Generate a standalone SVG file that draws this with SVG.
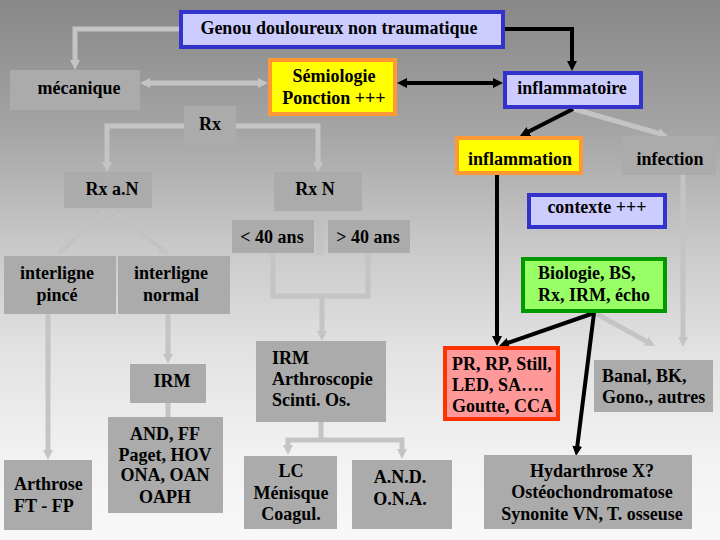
<svg xmlns="http://www.w3.org/2000/svg" width="720" height="540" viewBox="0 0 720 540">
<defs>
<linearGradient id="bg" x1="0" y1="0" x2="0" y2="1">
<stop offset="0" stop-color="#878787"/>
<stop offset="0.25" stop-color="#a6a6a6"/>
<stop offset="0.45" stop-color="#c8c8c8"/>
<stop offset="0.65" stop-color="#e2e2e2"/>
<stop offset="0.85" stop-color="#f2f2f2"/>
<stop offset="1" stop-color="#f8f8f8"/>
</linearGradient>
<marker id="ag" viewBox="0 0 10 10" refX="4" refY="5" markerWidth="10" markerHeight="10" markerUnits="userSpaceOnUse" orient="auto-start-reverse"><path d="M0,0 L10,5 L0,10 z" fill="#c4c4c4"/></marker>
<marker id="ab" viewBox="0 0 10 10" refX="4" refY="5" markerWidth="10" markerHeight="10" markerUnits="userSpaceOnUse" orient="auto-start-reverse"><path d="M0,0 L10,5 L0,10 z" fill="#000"/></marker>
</defs>
<style>
.g{fill:#ababab}
.blue{fill:#ccccff;stroke:#3333cc;stroke-width:4}
.yel{fill:#ffff00;stroke:#ff9933;stroke-width:4}
.red{fill:#ff9999;stroke:#ff3300;stroke-width:4}
.grn{fill:#99ff66;stroke:#009900;stroke-width:4}
.m{text-anchor:middle}
.cg{fill:none;stroke:#c4c4c4;stroke-width:5}
.cgt{fill:none;stroke:#c2c2c2;stroke-width:3.5}
.cb{fill:none;stroke:#000;stroke-width:4}
</style>
<rect x="0" y="0" width="720" height="540" fill="url(#bg)"/>
<g id="connectors">
<path class="cg" d="M180,29 H75 V64" marker-end="url(#ag)"/>
<path class="cg" d="M146,83 H262" marker-start="url(#ag)" marker-end="url(#ag)"/>
<path class="cg" d="M107,166 V126 H318 V166" marker-start="url(#ag)" marker-end="url(#ag)"/>
<path class="cgt" d="M104,210 L62,251" marker-end="url(#ag)"/>
<path class="cgt" d="M112,210 L164,251" marker-end="url(#ag)"/>
<path fill="none" stroke="#c0c0c0" stroke-width="8" stroke-opacity="0.5" d="M320,211 V255"/>
<path class="cg" d="M48,314 V454" marker-end="url(#ag)"/>
<path class="cg" d="M168,314 V358" marker-end="url(#ag)"/>
<path class="cg" d="M168,403 V417"/>
<path class="cg" d="M273,253 V296 H368 V253"/>
<path class="cg" d="M322,296 V335" marker-end="url(#ag)"/>
<path class="cg" d="M321,422 V440"/>
<path class="cg" d="M288,449 V440 H402 V453" marker-start="url(#ag)" marker-end="url(#ag)"/>
<path class="cg" d="M574,109 L662.2,134.3" marker-end="url(#ag)"/>
<path class="cg" d="M683,175 V341" marker-end="url(#ag)"/>
<path class="cg" d="M595,313 L649.7,343.1" marker-end="url(#ag)"/>
<path class="cb" d="M505,29 H572 V65" marker-end="url(#ab)"/>
<path class="cb" d="M403,83 H497" marker-start="url(#ab)" marker-end="url(#ab)"/>
<path class="cb" d="M573,109 L525.3,133.3" marker-end="url(#ab)"/>
<path class="cb" d="M497,175 V340" marker-end="url(#ab)"/>
<path class="cb" d="M594,313 L504.7,344" marker-end="url(#ab)"/>
<path class="cb" d="M594,313 L576.8,450" marker-end="url(#ab)"/>
</g>
<g font-family="'Liberation Serif', 'DejaVu Serif', serif" font-weight="bold" font-size="18" fill="#000">
<g id="genou"><rect class="blue" x="181" y="12" width="322" height="35"/><text class="m" x="339" y="34">Genou douloureux non traumatique</text></g>
<g id="mecanique"><rect class="g" x="10" y="70" width="130" height="40"/><text class="m" x="79" y="94">mécanique</text></g>
<g id="semiologie"><rect class="yel" x="270" y="60" width="125" height="54"/><text class="m" x="334" y="82">Sémiologie</text><text class="m" x="334" y="104">Ponction +++</text></g>
<g id="inflammatoire"><rect class="blue" x="505" y="73" width="136" height="34"/><text class="m" x="572" y="94">inflammatoire</text></g>
<g id="rx"><rect class="g" x="184" y="106" width="52" height="40"/><text class="m" x="210" y="130">Rx</text></g>
<g id="inflammation"><rect class="yel" x="457" y="138" width="124" height="35"/><text class="m" x="520" y="165">inflammation</text></g>
<g id="infection"><rect class="g" x="622" y="136" width="94" height="39"/><text class="m" x="670" y="165">infection</text></g>
<g id="rxan"><rect class="g" x="64" y="172" width="88" height="36"/><text class="m" x="112" y="195">Rx a.N</text></g>
<g id="rxn"><rect class="g" x="274" y="172" width="88" height="39"/><text class="m" x="315" y="195">Rx N</text></g>
<g id="contexte"><rect class="blue" x="529" y="195" width="136" height="32"/><text class="m" x="597" y="213">contexte +++</text></g>
<g id="moins40"><rect class="g" x="232" y="220" width="82" height="33"/><text class="m" x="272" y="243">&lt; 40 ans</text></g>
<g id="plus40"><rect class="g" x="328" y="220" width="82" height="33"/><text class="m" x="368" y="243">&gt; 40 ans</text></g>
<g id="pince"><rect class="g" x="4" y="256" width="112" height="58"/><text class="m" x="57" y="279">interligne</text><text class="m" x="57" y="301">pincé</text></g>
<g id="normal"><rect class="g" x="118" y="256" width="112" height="58"/><text class="m" x="171" y="279">interligne</text><text class="m" x="171" y="301">normal</text></g>
<g id="biologie"><rect class="grn" x="523" y="259" width="142" height="52"/><text x="538" y="279">Biologie, BS,</text><text x="538" y="301">Rx, IRM, écho</text></g>
<g id="irm"><rect class="g" x="130" y="364" width="76" height="39"/><text class="m" x="172" y="387">IRM</text></g>
<g id="irmarthro"><rect class="g" x="256" y="341" width="130" height="81"/><text x="272" y="364">IRM</text><text x="272" y="385">Arthroscopie</text><text x="272" y="406">Scinti. Os.</text></g>
<g id="pr"><rect class="red" x="445" y="348" width="113" height="71"/><text x="452" y="370">PR, RP, Still,</text><text x="452" y="391">LED, SA….</text><text x="452" y="412">Goutte, CCA</text></g>
<g id="banal"><rect class="g" x="594" y="360" width="119" height="52"/><text x="602" y="382">Banal, BK,</text><text x="602" y="403">Gono., autres</text></g>
<g id="and"><rect class="g" x="108" y="417" width="115" height="96"/><text class="m" x="165" y="440">AND, FF</text><text class="m" x="165" y="461">Paget, HOV</text><text class="m" x="165" y="481">ONA, OAN</text><text class="m" x="165" y="503">OAPH</text></g>
<g id="arthrose"><rect class="g" x="4" y="460" width="88" height="70"/><text x="14" y="490">Arthrose</text><text x="14" y="512">FT - FP</text></g>
<g id="lc"><rect class="g" x="244" y="456" width="93" height="73"/><text class="m" x="291" y="477">LC</text><text class="m" x="291" y="499">Ménisque</text><text class="m" x="291" y="520">Coagul.</text></g>
<g id="andona"><rect class="g" x="352" y="460" width="100" height="69"/><text class="m" x="400" y="483">A.N.D.</text><text class="m" x="400" y="505">O.N.A.</text></g>
<g id="hydarthrose"><rect class="g" x="484" y="455" width="208" height="74"/><text class="m" x="592" y="477">Hydarthrose X?</text><text class="m" x="592" y="498">Ostéochondromatose</text><text class="m" x="592" y="520">Synonite VN, T. osseuse</text></g>
</g>
</svg>
